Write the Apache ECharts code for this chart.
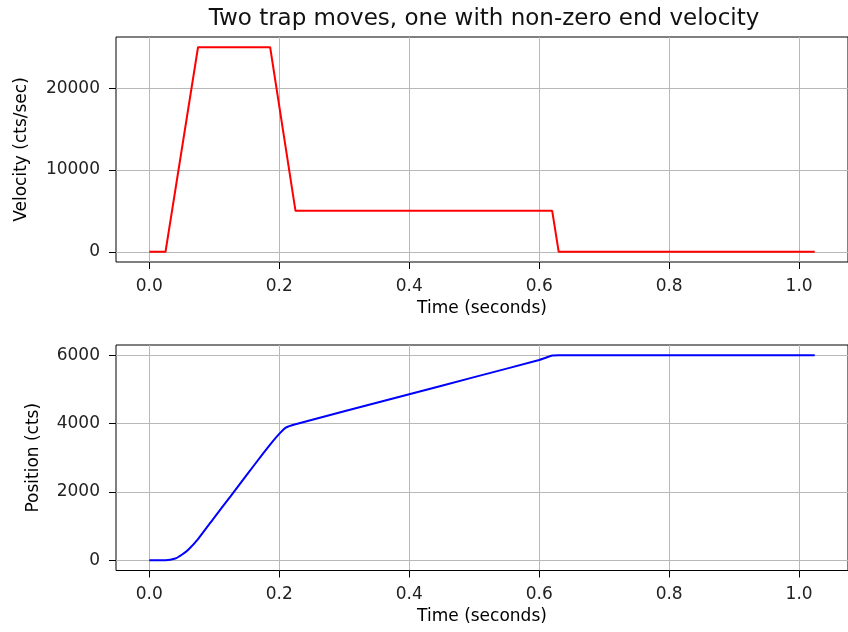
<!DOCTYPE html>
<html>
<head>
<meta charset="utf-8">
<script src="https://cdn.jsdelivr.net/npm/echarts@6/dist/echarts.min.js"></script>
<style>
  html, body { margin: 0; padding: 0; background: #fff; }
  #main { width: 848px; height: 632px; }
</style>
</head>
<body>
<div id="main"></div>
<script>
// velocity profile
var velTime = [0, 0.025, 0.075, 0.186, 0.225, 0.62, 0.63, 1.024];
var velValues = [0, 0, 25000, 25000, 5000, 5000, 0, 0];

// position profile
var posTime = [0, 0.025, 0.04, 0.05, 0.06, 0.075, 0.1, 0.125, 0.15, 0.175, 0.19, 0.2, 0.21, 0.225, 0.3, 0.4, 0.5, 0.6, 0.62, 0.63, 1.024];
var posValues = [0, 0, 50, 160, 310, 620, 1250, 1870, 2500, 3120, 3480, 3700, 3880, 3980, 4360, 4860, 5360, 5860, 5990, 6000, 6000];

// tick labels
var timeTicks = [0, 0.2, 0.4, 0.6, 0.8, 1.0];
var velTicks = [0, 10000, 20000];
var posTicks = [0, 2000, 4000, 6000];

var myChart = echarts.init(document.getElementById('main'));

function pairs(xs, ys) {
  return xs.map(function (x, i) { return [x, ys[i]]; });
}

var font = 'DejaVu Sans';

function timeAxis(gridIndex) {
  return {
    type: 'value',
    gridIndex: gridIndex,
    min: -0.0512,
    max: 1.0752,
    name: 'Time (seconds)',
    nameLocation: 'middle',
    nameGap: 38,
    nameTextStyle: { fontFamily: font, fontSize: 17, color: '#000' },
    axisLine: { show: false, onZero: false },
    axisTick: { show: true, length: 7, customValues: timeTicks, lineStyle: { color: '#000', width: 1 } },
    axisLabel: {
      customValues: timeTicks,
      margin: 16,
      fontFamily: font,
      fontSize: 17,
      color: '#222',
      formatter: function (v) { return v.toFixed(1); }
    },
    splitLine: { show: true, lineStyle: { color: '#b8b8b8', width: 1 } }
  };
}

function valueAxis(gridIndex, name, gap, min, max, ticks) {
  return {
    type: 'value',
    gridIndex: gridIndex,
    min: min,
    max: max,
    name: name,
    nameLocation: 'middle',
    nameGap: gap,
    nameTextStyle: { fontFamily: font, fontSize: 17, color: '#000' },
    axisLine: { show: false, onZero: false },
    axisTick: { show: true, length: 7, customValues: ticks, lineStyle: { color: '#000', width: 1 } },
    axisLabel: {
      customValues: ticks,
      margin: 16,
      fontFamily: font,
      fontSize: 17,
      color: '#222',
      formatter: function (v) { return String(v); }
    },
    splitLine: { show: true, lineStyle: { color: '#b8b8b8', width: 1 } }
  };
}

option = {
  backgroundColor: '#fff',
  animation: false,
  title: {
    text: 'Two trap moves, one with non-zero end velocity',
    left: 479,
    textAlign: 'center',
    top: 3,
    textStyle: { fontFamily: font, fontSize: 23, fontWeight: 'normal', color: '#111' }
  },
  grid: [
    { left: 116, right: -5, top: 37, height: 225, show: true, borderColor: '#000', borderWidth: 1 },
    { left: 116, right: -5, top: 345, height: 225.5, show: true, borderColor: '#000', borderWidth: 1 }
  ],
  xAxis: [timeAxis(0), timeAxis(1)],
  yAxis: [
    valueAxis(0, 'Velocity (cts/sec)', 86, -1250, 26250, velTicks),
    valueAxis(1, 'Position (cts)', 74, -300, 6300, posTicks)
  ],
  series: [
    {
      name: 'velocity',
      type: 'line',
      xAxisIndex: 0,
      yAxisIndex: 0,
      showSymbol: false,
      lineStyle: { color: '#ff0000', width: 2 },
      data: pairs(velTime, velValues)
    },
    {
      name: 'position',
      type: 'line',
      xAxisIndex: 1,
      yAxisIndex: 1,
      showSymbol: false,
      smooth: 0.15,
      lineStyle: { color: '#0000ff', width: 2 },
      data: pairs(posTime, posValues)
    }
  ]
};

myChart.setOption(option);
</script>
</body>
</html>
